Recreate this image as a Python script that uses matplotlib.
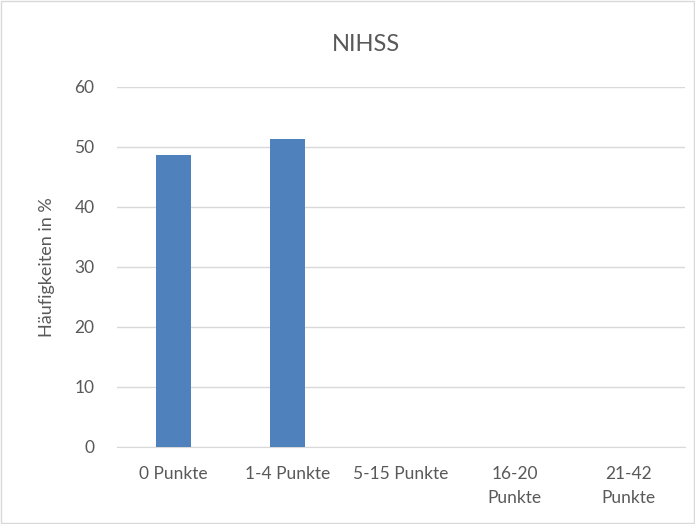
import matplotlib
matplotlib.use("Agg")
import matplotlib.pyplot as plt
import numpy as np

plt.rcParams["font.family"] = ["Lato", "DejaVu Sans"]

categories = ["0 Punkte", "1-4 Punkte", "5-15 Punkte", "16-20\nPunkte", "21-42\nPunkte"]
values = [48.7, 51.3, 0, 0, 0]
yticks = [0, 10, 20, 30, 40, 50, 60]

fig = plt.figure(figsize=(6.95, 5.24), dpi=100)
ax = fig.add_axes([0.168, 0.147, 0.818, 0.687])

x = np.arange(len(categories))
ax.bar(x, values, width=0.31, color="#4F81BD", zorder=3)

ax.set_xlim(-0.5, len(categories) - 0.5)
ax.set_ylim(0, 60)
ax.set_yticks(yticks)
ax.set_xticks(x)
ax.set_xticklabels(categories, fontsize=12.5, color="#595959", va="top", linespacing=1.6)
ax.tick_params(axis="y", labelsize=12.5, colors="#595959", length=0, pad=16)
ax.tick_params(axis="x", length=0, pad=14)
ax.grid(axis="y", color="#D9D9D9", linewidth=1, zorder=0)
for s in ["top", "right", "left"]:
    ax.spines[s].set_visible(False)
ax.spines["bottom"].set_color("#D9D9D9")

ax.set_ylabel("Häufigkeiten in %", fontsize=13, color="#595959", labelpad=14)
fig.text(0.527, 0.915, "NIHSS", fontsize=17, color="#595959", ha="center", va="center")

# light frame around the chart
fig.patches.append(plt.Rectangle((0.002, 0.002), 0.996, 0.996, transform=fig.transFigure,
                                 fill=False, edgecolor="#D9D9D9", linewidth=1))

fig.savefig("out.png", dpi=100)
